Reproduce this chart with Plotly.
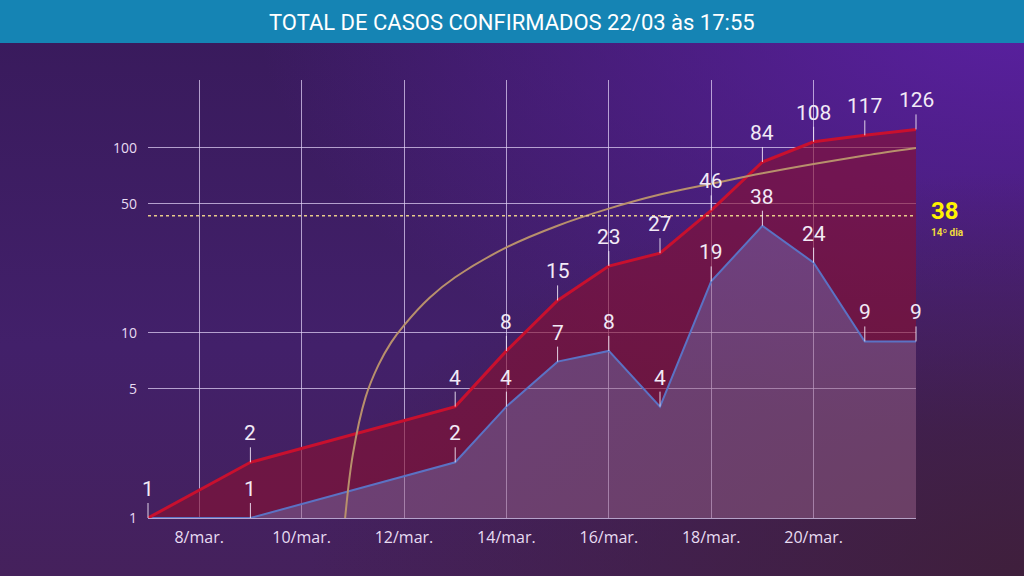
import base64

import numpy as np
import plotly.graph_objects as go

# dados (dia de março)
dias = [7, 9, 13, 14, 15, 16, 17, 18, 19, 20, 21, 22]
total = [1, 2, 4, 8, 15, 23, 27, 46, 84, 108, 117, 126]
novos = [1, 1, 2, 4, 7, 8, 4, 19, 38, 24, 9, 9]

# linha de tendência (laranja)
tend_dias = [10.85, 11, 11.25, 11.5, 11.75, 12, 12.5, 13, 14, 15, 16, 17, 18, 19, 20, 21, 22]
tend_vals = [1.0, 2.2, 4.5, 6.7, 8.9, 11, 15.5, 20, 29, 38, 47, 56, 64, 73, 82, 91, 100]

# linha pontilhada amarela (posição) e seu rótulo
ref_linha = 43
ref_valor = 38
ref_texto = '14º dia'

x_ticks = [8, 10, 12, 14, 16, 18, 20, 22]
x_labels = ['8/mar.', '10/mar.', '12/mar.', '14/mar.', '16/mar.', '18/mar.', '20/mar.', '']
y_ticks = [1, 5, 10, 50, 100]

titulo = 'TOTAL DE CASOS CONFIRMADOS 22/03 às 17:55'

W, H = 1024, 576
l, r, t, b = 148, 108, 80, 58
pw, ph = W - l - r, H - t - b

svg = f'''<svg xmlns="http://www.w3.org/2000/svg" width="{W}" height="{H}" viewBox="0 0 {W} {H}" preserveAspectRatio="none">
<defs>
<linearGradient id="a" x1="0" y1="0" x2="0" y2="1">
<stop offset="0" stop-color="#381a5b"/><stop offset="0.6" stop-color="#42206a"/><stop offset="1" stop-color="#45215c"/>
</linearGradient>
<radialGradient id="b" cx="1" cy="0" r="0.75">
<stop offset="0" stop-color="#5b20a3" stop-opacity="1"/><stop offset="1" stop-color="#5b20a3" stop-opacity="0"/>
</radialGradient>
<radialGradient id="c" cx="1" cy="1" r="0.7">
<stop offset="0" stop-color="#3f1f3c" stop-opacity="1"/><stop offset="1" stop-color="#3f1f3c" stop-opacity="0"/>
</radialGradient>
</defs>
<rect width="{W}" height="{H}" fill="url(#a)"/>
<rect width="{W}" height="{H}" fill="url(#b)"/>
<rect width="{W}" height="{H}" fill="url(#c)"/>
</svg>'''
bg_src = 'data:image/svg+xml;base64,' + base64.b64encode(svg.encode()).decode()

fig = go.Figure()

fig.add_trace(go.Scatter(
    x=dias, y=novos,
    mode='lines',
    line=dict(color='#5b72c4', width=2),
    fill='tozeroy',
    fillcolor='rgba(150,95,135,0.5)',
    hoverinfo='skip',
))
fig.add_trace(go.Scatter(
    x=dias, y=total,
    mode='lines',
    line=dict(color='#c8102e', width=3),
    fill='tonexty',
    fillcolor='rgba(136,16,50,0.62)',
    hoverinfo='skip',
))
fig.add_trace(go.Scatter(
    x=tend_dias, y=tend_vals,
    mode='lines',
    line=dict(color='#b8906c', width=2, shape='spline'),
    hoverinfo='skip',
))
fig.add_trace(go.Scatter(
    x=[dias[0], dias[-1]], y=[ref_linha, ref_linha],
    mode='lines',
    line=dict(color='#e8cc8a', width=1.6, dash='dot'),
    hoverinfo='skip',
))

label_font = dict(family='Roboto', size=21, color='#f2eaf6')
for serie in (total, novos[1:]):
    xs = dias if serie is total else dias[1:]
    for xv, yv in zip(xs, serie):
        fig.add_annotation(
            x=xv, y=np.log10(yv), xref='x', yref='y',
            text=str(yv), font=label_font,
            showarrow=True, arrowhead=0, arrowwidth=1,
            arrowcolor='rgba(240,230,246,0.9)',
            ax=0, ay=-15, yanchor='bottom',
        )

fig.add_annotation(
    x=(929 - l) / pw, y=np.log10(ref_linha), xref='paper', yref='y',
    text='<b>%d</b>' % ref_valor, showarrow=False,
    xanchor='left', yanchor='middle', yshift=5,
    font=dict(family='Roboto', size=24, color='#fff200'),
)
fig.add_annotation(
    x=(929 - l) / pw, y=np.log10(ref_linha), xref='paper', yref='y',
    text='<b>' + ref_texto + '</b>', showarrow=False,
    xanchor='left', yanchor='middle', yshift=-17,
    font=dict(family='Roboto', size=10, color='#f0dc3c'),
)

# barra do título
fig.add_shape(
    type='rect', xref='paper', yref='paper',
    x0=-l / pw, x1=(W - l) / pw,
    y0=1 + (t - 43) / ph, y1=1 + t / ph,
    fillcolor='#1584b4', line_width=0,
)
fig.add_annotation(
    x=(W / 2 - l) / pw, y=1 + (t - 22) / ph, xref='paper', yref='paper',
    text=titulo, showarrow=False, xanchor='center', yanchor='middle',
    font=dict(family='Roboto', size=22, color='white'),
)

fig.add_layout_image(
    source=bg_src, xref='paper', yref='paper',
    x=-l / pw, y=1 + t / ph, sizex=W / pw, sizey=H / ph,
    xanchor='left', yanchor='top', sizing='stretch', layer='below',
)

grid_color = 'rgba(226,210,246,0.72)'
tick_font = dict(family='Open Sans', size=16, color='#e8dcf2')

fig.update_xaxes(
    range=[7, 22],
    tickvals=x_ticks, ticktext=x_labels,
    showgrid=True, gridcolor=grid_color, gridwidth=1.2,
    zeroline=False,
    showline=True, linecolor=grid_color, linewidth=1.2,
    ticks='', ticklabelstandoff=5,
    tickfont=tick_font,
)
fig.update_yaxes(
    type='log',
    range=[0, np.log10(233)],
    tickvals=y_ticks, ticktext=[str(v) for v in y_ticks],
    showgrid=True, gridcolor=grid_color, gridwidth=1.2,
    zeroline=False, showline=False,
    ticks='', ticklabelstandoff=10,
    tickfont=dict(family='Open Sans', size=14, color='#e8dcf2'),
)

fig.update_layout(
    width=W, height=H,
    margin=dict(l=l, r=r, t=t, b=b),
    paper_bgcolor='#3e1e60',
    plot_bgcolor='rgba(0,0,0,0)',
    showlegend=False,
)

fig.write_html(
    'out.html',
    config={'displayModeBar': False},
    post_script="document.body.style.margin='0';document.body.style.overflow='hidden';",
)
